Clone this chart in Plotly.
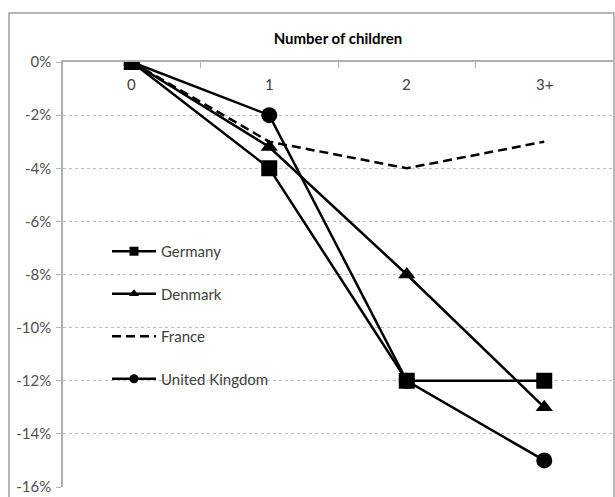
import plotly.graph_objects as go

categories = ["0", "1", "2", "3+"]
germany = [0, -4, -12, -12]
denmark = [0, -3.2, -8, -13]
france = [0, -3, -4, -3]
uk = [0, -2, -12, -15]

tick_vals = [0, -2, -4, -6, -8, -10, -12, -14, -16]
tick_text = ["0%", "-2%", "-4%", "-6%", "-8%", "-10%", "-12%", "-14%", "-16%"]

FONT = "Lato"
FS = 15

fig = go.Figure()
series = [
    ("Germany", germany, "square", "solid", 16, 9),
    ("Denmark", denmark, "triangle-up", "solid", 15, 9),
    ("France", france, None, "9px,5px", 0, 0),
    ("United Kingdom", uk, "circle", "solid", 16, 9),
]
for name, vals, sym, dash, msize, lsize in series:
    line = dict(color="black", width=2.5, dash=dash)
    kw = dict(mode="lines+markers", marker=dict(symbol=sym, size=msize, color="black")) if sym else dict(mode="lines")
    fig.add_trace(go.Scatter(x=categories, y=vals, name=name, legendgroup=name,
                             showlegend=False, line=line, **kw))
    # legend entry with the smaller legend symbol, no data drawn
    lkw = dict(mode="lines+markers", marker=dict(symbol=sym, size=lsize, color="black")) if sym else dict(mode="lines")
    fig.add_trace(go.Scatter(x=[None], y=[None], name=name, legendgroup=name,
                             showlegend=True, line=line, hoverinfo="skip", **lkw))

# category labels sit just under the top axis line (Excel "next to axis")
for c in categories:
    fig.add_annotation(x=c, xref="x", y=0.948, yref="paper", text=c,
                       showarrow=False, yanchor="middle",
                       font=dict(family=FONT, size=FS, color="#404040"))

fig.update_layout(
    width=615, height=497,
    margin=dict(l=63, r=2, t=62, b=10),
    paper_bgcolor="white", plot_bgcolor="white",
    font=dict(family=FONT, size=FS, color="#404040"),
    showlegend=True,
    legend=dict(
        x=0.08, y=0.593, xanchor="left", yanchor="top",
        traceorder="grouped", tracegroupgap=20,
        itemsizing="trace", itemwidth=44,
        bgcolor="rgba(0,0,0,0)",
        font=dict(family=FONT, size=FS, color="#404040"),
    ),
    xaxis=dict(
        type="category", side="top", range=[-0.5, 3.5], automargin=False,
        showline=True, linecolor="#b0b0b0", linewidth=1.5,
        ticks="inside", tickson="boundaries", ticklen=6, tickcolor="#b0b0b0",
        showticklabels=False,
        showgrid=False, zeroline=False,
        title=dict(text="<b>Number of children</b>", standoff=12,
                   font=dict(family=FONT, size=FS, color="black")),
    ),
    yaxis=dict(
        range=[-16, 0], tickvals=tick_vals, ticktext=tick_text, automargin=False,
        showline=True, linecolor="#b0b0b0", linewidth=1.5,
        ticks="outside", ticklen=5, tickcolor="#b0b0b0",
        ticklabelstandoff=2,
        showgrid=True, gridcolor="#bdbdbd", griddash="dot", gridwidth=1,
        zeroline=False,
        tickfont=dict(family=FONT, size=FS, color="#505050"),
    ),
    shapes=[dict(type="rect", xref="paper", yref="paper",
                 x0=(9 - 63) / 550, x1=(614 - 63) / 550,
                 y0=-0.2, y1=(487 - 13) / 425,
                 line=dict(color="#a0a0a0", width=1.5), layer="below")],
)

fig.write_html("out.html", config={"displayModeBar": False},
               post_script="document.body.style.margin='0px';")
